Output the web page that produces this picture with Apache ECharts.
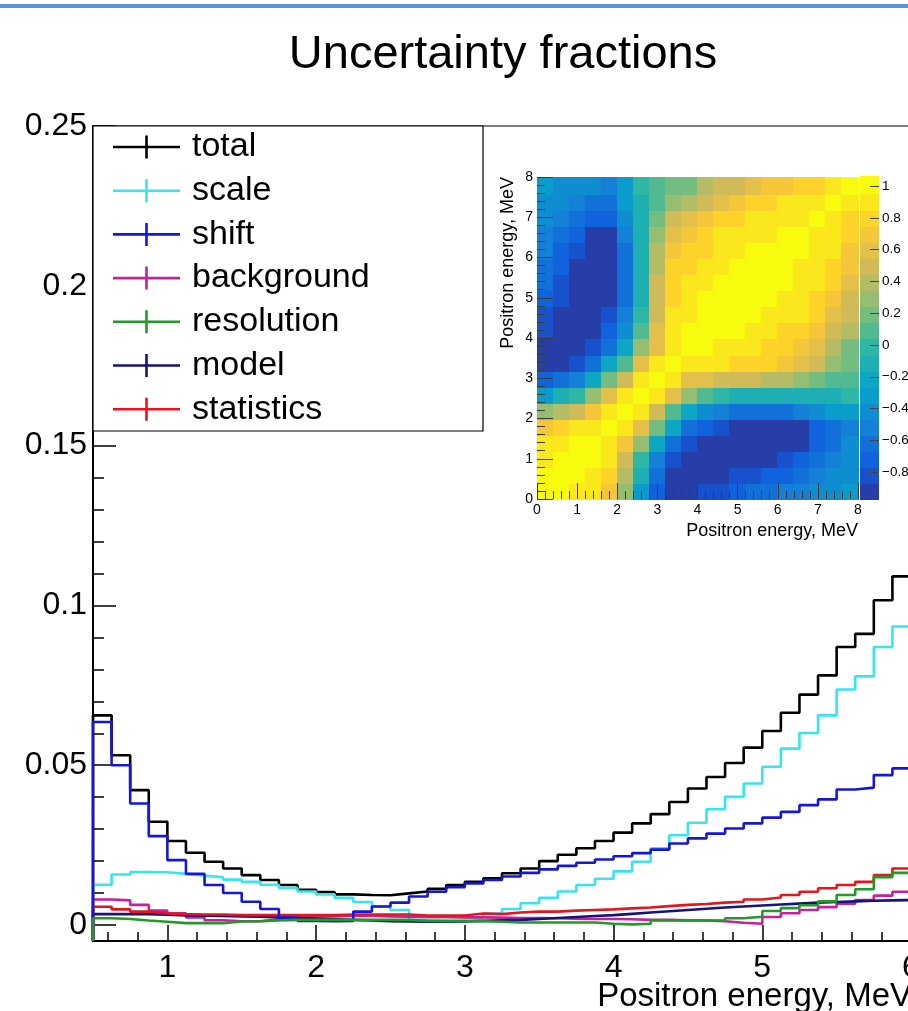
<!DOCTYPE html>
<html>
<head>
<meta charset="utf-8">
<title>Uncertainty fractions</title>
<script src="https://cdn.jsdelivr.net/npm/echarts@6/dist/echarts.min.js"></script>
<style>
  html, body { margin: 0; padding: 0; background: #fff; }
  #chart { width: 908px; height: 1011px; }
</style>
</head>
<body>
<div id="chart"></div>
<script>
// binning of the histograms: 0.125 MeV bins starting at 0.5 MeV
const binStart = 0.5;
const binWidth = 0.125;

const total = [0.0656, 0.0531, 0.0422, 0.0323, 0.0263, 0.0226, 0.0198, 0.0177, 0.0156, 0.0141, 0.0125,
  0.0110, 0.0103, 0.0096, 0.0094, 0.0093, 0.0099, 0.0105, 0.0113, 0.0125, 0.0135, 0.0146,
  0.0162, 0.0177, 0.0200, 0.0220, 0.0240, 0.0263, 0.0289, 0.0318, 0.0347, 0.0385, 0.0427,
  0.0463, 0.0507, 0.0555, 0.0607, 0.0664, 0.0721, 0.0781, 0.0870, 0.0911, 0.1016, 0.1091];
const scale = [0.0126, 0.0158, 0.0166, 0.0165, 0.0160, 0.0155, 0.0149, 0.0142, 0.0135, 0.0126, 0.0116,
  0.0105, 0.0096, 0.0085, 0.0072, 0.0058, 0.0047, 0.0016, 0.0016, 0.0016, 0.0021, 0.0036,
  0.0050, 0.0068, 0.0085, 0.0105, 0.0125, 0.0145, 0.0168, 0.0198, 0.0240, 0.0281, 0.0320,
  0.0362, 0.0401, 0.0443, 0.0495, 0.0552, 0.0601, 0.0656, 0.0737, 0.0778, 0.0870, 0.0934];
const shift = [0.0635, 0.0500, 0.0380, 0.0278, 0.0203, 0.0160, 0.0125, 0.0100, 0.0073, 0.0050, 0.0023,
  0.0013, 0.0012, 0.0013, 0.0042, 0.0058, 0.0070, 0.0089, 0.0104, 0.0118, 0.0130, 0.0141,
  0.0152, 0.0163, 0.0174, 0.0185, 0.0195, 0.0205, 0.0215, 0.0225, 0.0236, 0.0255, 0.0271,
  0.0286, 0.0302, 0.0318, 0.0336, 0.0354, 0.0375, 0.0393, 0.0424, 0.0430, 0.0469, 0.0490];
const background = [0.0080, 0.0077, 0.0063, 0.0045, 0.0037, 0.0024, 0.0015, 0.0012, 0.0012, 0.0018, 0.0024,
  0.0027, 0.0027, 0.0028, 0.0028, 0.0027, 0.0026, 0.0025, 0.0025, 0.0024, 0.0024, 0.0023,
  0.0022, 0.0022, 0.0021, 0.0020, 0.0019, 0.0019, 0.0018, 0.0016, 0.0016, 0.0015, 0.0014,
  0.0012, 0.0007, 0.0004, 0.0025, 0.0037, 0.0047, 0.0056, 0.0067, 0.0078, 0.0092, 0.0104];
const resolution = [0.0021, 0.0019, 0.0014, 0.0010, 0.0006, 0.0006, 0.0006, 0.0011, 0.0012, 0.0014, 0.0016,
  0.0016, 0.0016, 0.0016, 0.0016, 0.0016, 0.0016, 0.0013, 0.0012, 0.0012, 0.0012, 0.0010,
  0.0008, 0.0008, 0.0008, 0.0008, 0.0008, 0.0004, 0.0002, 0.0004, 0.0014, 0.0014, 0.0014,
  0.0014, 0.0021, 0.0026, 0.0044, 0.0053, 0.0062, 0.0074, 0.0094, 0.0112, 0.0150, 0.0163];
const model = [0.0034, 0.0034, 0.0034, 0.0032, 0.0030, 0.0029, 0.0028, 0.0027, 0.0026, 0.0024, 0.0022,
  0.0020, 0.0018, 0.0016, 0.0014, 0.0012, 0.0011, 0.0010, 0.0010, 0.0011, 0.0013, 0.0015,
  0.0016, 0.0019, 0.0022, 0.0025, 0.0028, 0.0031, 0.0035, 0.0039, 0.0043, 0.0047, 0.0051,
  0.0055, 0.0058, 0.0061, 0.0064, 0.0067, 0.0070, 0.0072, 0.0074, 0.0076, 0.0077, 0.0078];
const statistics = [0.0057, 0.0049, 0.0042, 0.0036, 0.0034, 0.0033, 0.0033, 0.0031, 0.0031, 0.0031, 0.0031,
  0.0031, 0.0031, 0.0033, 0.0033, 0.0033, 0.0033, 0.0030, 0.0030, 0.0030, 0.0036, 0.0034,
  0.0039, 0.0042, 0.0042, 0.0045, 0.0047, 0.0049, 0.0052, 0.0055, 0.0059, 0.0063, 0.0066,
  0.0070, 0.0073, 0.0080, 0.0086, 0.0094, 0.0104, 0.0115, 0.0125, 0.0135, 0.0156, 0.0177];

const legendOrder = ['total', 'scale', 'shift', 'background', 'resolution', 'model', 'statistics'];
const xTicks = [1, 2, 3, 4, 5, 6];
const yTicks = [0, 0.05, 0.1, 0.15, 0.2, 0.25];

// inset: correlation matrix, 0.4 MeV cells, upper triangle (row = y cell, from the diagonal to the right)
const corrCenters = [0.2, 0.6, 1.0, 1.4, 1.8, 2.2, 2.6, 3.0, 3.4, 3.8, 4.2, 4.6, 5.0, 5.4, 5.8, 6.2, 6.6, 7.0, 7.4, 7.8];
const corrCell = 0.4;
const corrUpper = [
  [1.00, 0.98, 0.95, 0.88, 0.70, 0.25, -0.30, -0.70, -0.88, -0.88, -0.84, -0.78, -0.72, -0.66, -0.60, -0.55, -0.50, -0.45, -0.38, -0.30],
  [1.00, 0.98, 0.93, 0.80, 0.40, -0.15, -0.60, -0.88, -0.92, -0.92, -0.90, -0.86, -0.80, -0.74, -0.67, -0.60, -0.52, -0.44, -0.37],
  [1.00, 0.97, 0.88, 0.55, -0.05, -0.50, -0.80, -0.92, -0.94, -0.94, -0.93, -0.91, -0.88, -0.82, -0.72, -0.62, -0.52, -0.43],
  [1.00, 0.95, 0.75, 0.25, -0.25, -0.60, -0.80, -0.89, -0.92, -0.93, -0.93, -0.92, -0.90, -0.88, -0.75, -0.60, -0.46],
  [1.00, 0.92, 0.60, 0.15, -0.25, -0.60, -0.74, -0.82, -0.87, -0.89, -0.90, -0.90, -0.88, -0.74, -0.60, -0.47],
  [1.00, 0.88, 0.50, 0.10, -0.20, -0.38, -0.55, -0.62, -0.66, -0.66, -0.60, -0.52, -0.45, -0.36, -0.28],
  [1.00, 0.88, 0.60, 0.30, 0.12, 0.00, -0.08, -0.12, -0.14, -0.15, -0.15, -0.13, -0.10, -0.05],
  [1.00, 0.88, 0.65, 0.60, 0.55, 0.52, 0.48, 0.42, 0.36, 0.28, 0.20, 0.12, 0.05],
  [1.00, 0.90, 0.88, 0.87, 0.85, 0.82, 0.77, 0.70, 0.60, 0.47, 0.32, 0.15],
  [1.00, 0.96, 0.93, 0.90, 0.87, 0.82, 0.76, 0.68, 0.57, 0.42, 0.22],
  [1.00, 0.98, 0.96, 0.94, 0.90, 0.85, 0.78, 0.68, 0.55, 0.35],
  [1.00, 0.99, 0.97, 0.95, 0.91, 0.86, 0.77, 0.65, 0.45],
  [1.00, 0.99, 0.97, 0.95, 0.90, 0.83, 0.73, 0.53],
  [1.00, 0.99, 0.97, 0.93, 0.87, 0.79, 0.60],
  [1.00, 0.98, 0.95, 0.90, 0.83, 0.66],
  [1.00, 0.97, 0.92, 0.86, 0.72],
  [1.00, 0.95, 0.89, 0.78],
  [1.00, 0.93, 0.84],
  [1.00, 0.90],
  [1.00]
];
const zMin = -0.969;
const zMax = 1.057;
const zBands = 20;
const zTicks = [-0.8, -0.6, -0.4, -0.2, 0, 0.2, 0.4, 0.6, 0.8, 1];

const font = '"Liberation Sans", Arial, Helvetica, sans-serif';
const yMin = -0.005;

// ROOT kBird palette
function bird(f) {
  const st = [0, 0.125, 0.25, 0.375, 0.5, 0.625, 0.75, 0.875, 1];
  const r = [0.2082, 0.0592, 0.0780, 0.0232, 0.1802, 0.5301, 0.8186, 0.9956, 0.9764];
  const g = [0.1664, 0.3599, 0.5041, 0.6419, 0.7178, 0.7492, 0.7328, 0.7862, 0.9832];
  const b = [0.5293, 0.8684, 0.8385, 0.7914, 0.6425, 0.4662, 0.3499, 0.1968, 0.0539];
  let i = 0;
  while (i < st.length - 2 && f > st[i + 1]) i++;
  const t = (f - st[i]) / (st[i + 1] - st[i]);
  const c = a => Math.round(255 * (a[i] + t * (a[i + 1] - a[i])));
  return 'rgb(' + c(r) + ',' + c(g) + ',' + c(b) + ')';
}

const bandW = (zMax - zMin) / zBands;
const pieces = [];
const bandData = [];
for (let i = 0; i < zBands; i++) {
  const lo = zMin + i * bandW, hi = lo + bandW;
  const f = Math.floor((i + 0.99) * 255 / zBands) / 254;
  pieces.push({ gte: lo, lt: hi, color: bird(Math.min(f, 1)) });
  bandData.push([lo, hi, (lo + hi) / 2]);
}
pieces[zBands - 1].lte = zMax;
delete pieces[zBands - 1].lt;

const heatData = [];
corrUpper.forEach((row, i) => {
  row.forEach((v, k) => {
    const j = i + k;
    heatData.push([corrCenters[j], corrCenters[i], v]);
    if (j !== i) heatData.push([corrCenters[i], corrCenters[j], v]);
  });
});

function stepData(values) {
  const pts = [[binStart, yMin]];
  values.forEach((v, i) => pts.push([binStart + i * binWidth, v]));
  pts.push([binStart + values.length * binWidth, values[values.length - 1]]);
  return pts;
}

const xMinor = [];
for (let v = 6; v < 60; v += 2) if (v % 10) xMinor.push(v / 10);
const yMinor = [];
for (let k = 1; k < 25; k++) if (k % 5) yMinor.push(k / 100);

const hists = [
  { name: 'total', data: total, color: '#000000' },
  { name: 'scale', data: scale, color: '#35e6ee' },
  { name: 'background', data: background, color: '#c81ea0' },
  { name: 'model', data: model, color: '#14147c' },
  { name: 'statistics', data: statistics, color: '#e8141c' },
  { name: 'shift', data: shift, color: '#1616d8' },
  { name: 'resolution', data: resolution, color: '#219a26' }
];

const chart = echarts.init(document.getElementById('chart'), null, { renderer: 'canvas' });

const fmt = v => String(Number(v.toFixed(3))).replace('-', '\u2212');

const option = {
  animation: false,
  backgroundColor: '#fff',
  textStyle: { fontFamily: font },
  grid: [
    { left: 93, top: 126, width: 818, height: 815, outerBoundsMode: 'none', containLabel: false,
      show: true, borderColor: '#000', borderWidth: 1.2, backgroundColor: 'transparent' },
    { left: 537, top: 177, width: 321, height: 322, outerBoundsMode: 'none', containLabel: false },
    { left: 860, top: 177, width: 19, height: 322, outerBoundsMode: 'none', containLabel: false }
  ],
  xAxis: [
    {
      type: 'value', gridIndex: 0, position: 'bottom', min: 0.5, max: 6.0,
      axisLine: { show: true, onZero: false, lineStyle: { color: '#000', width: 2 } },
      axisTick: { show: true, inside: true, length: 16, customValues: xTicks, lineStyle: { color: '#000', width: 1.5 } },
      axisLabel: { show: true, customValues: xTicks, fontSize: 32, color: '#000', margin: 11, fontFamily: font },
      splitLine: { show: false }
    },
    {
      type: 'value', gridIndex: 0, position: 'bottom', min: 0.5, max: 6.0,
      axisLine: { show: false, onZero: false },
      axisTick: { show: true, inside: true, length: 9, customValues: xMinor, lineStyle: { color: '#000', width: 1.5 } },
      axisLabel: { show: false },
      splitLine: { show: false }
    },
    {
      type: 'value', gridIndex: 1, position: 'bottom', min: 0, max: 8, interval: 1, z: 10,
      axisLine: { show: false, onZero: false },
      axisTick: { show: true, inside: true, length: 16, lineStyle: { color: '#3a3a3a', width: 1 } },
      minorTick: { show: true, splitNumber: 5, length: 8, lineStyle: { color: '#3a3a3a', width: 1 } },
      axisLabel: { fontSize: 14, color: '#000', margin: 4, fontFamily: font, showMinLabel: true, showMaxLabel: true },
      splitLine: { show: false }
    },
    {
      type: 'value', gridIndex: 2, min: 0, max: 1, show: false
    }
  ],
  yAxis: [
    {
      type: 'value', gridIndex: 0, position: 'left', min: yMin, max: 0.25,
      axisLine: { show: true, onZero: false, lineStyle: { color: '#000', width: 2 } },
      axisTick: { show: true, inside: true, length: 23, customValues: yTicks, lineStyle: { color: '#000', width: 1.5 } },
      axisLabel: { show: true, customValues: yTicks, fontSize: 32, color: '#000', margin: 6, fontFamily: font, formatter: fmt },
      splitLine: { show: false }
    },
    {
      type: 'value', gridIndex: 0, position: 'left', min: yMin, max: 0.25,
      axisLine: { show: false, onZero: false },
      axisTick: { show: true, inside: true, length: 11, customValues: yMinor, lineStyle: { color: '#000', width: 1.5 } },
      axisLabel: { show: false },
      splitLine: { show: false }
    },
    {
      type: 'value', gridIndex: 1, position: 'left', min: 0, max: 8, interval: 1, z: 10,
      axisLine: { show: false, onZero: false },
      axisTick: { show: true, inside: true, length: 16, lineStyle: { color: '#3a3a3a', width: 1 } },
      minorTick: { show: true, splitNumber: 5, length: 8, lineStyle: { color: '#3a3a3a', width: 1 } },
      axisLabel: { fontSize: 14, color: '#000', margin: 4, fontFamily: font, showMinLabel: true, showMaxLabel: true },
      splitLine: { show: false }
    },
    {
      type: 'value', gridIndex: 2, min: zMin, max: zMax, position: 'right', z: 10,
      axisLine: { show: false, onZero: false },
      axisTick: { show: true, inside: true, length: 9, customValues: zTicks, lineStyle: { color: '#444', width: 1 } },
      axisLabel: { show: true, customValues: zTicks, fontSize: 13.5, color: '#000', margin: 3, fontFamily: font, formatter: fmt },
      splitLine: { show: false }
    }
  ],
  visualMap: {
    type: 'piecewise', show: false, dimension: 2, seriesIndex: [7, 8], pieces: pieces
  },
  legend: {
    data: legendOrder,
    orient: 'vertical',
    left: 108, top: 125,
    itemWidth: 67, itemHeight: 23, itemGap: 9.7,
    icon: 'path://M0,10.2h67v2.6h-67z M32.2,0h2.6v23h-2.6z',
    selectedMode: false,
    textStyle: { fontSize: 34, color: '#000', fontFamily: font, padding: [0, 0, 0, 7] },
    z: 6
  },
  graphic: [
    { type: 'rect', z: 0, shape: { x: 0, y: 4, width: 908, height: 4 }, style: { fill: '#5b8fe3' } },
    { type: 'rect', z: 5, shape: { x: 93, y: 126, width: 390, height: 305 }, style: { fill: '#fff', stroke: '#000', lineWidth: 1.2 } },
    { type: 'text', z: 5, x: 503, y: 55,
      style: { text: 'Uncertainty fractions', font: '47px ' + font, fill: '#000', textAlign: 'center', align: 'center', textVerticalAlign: 'middle', verticalAlign: 'middle' } },
    { type: 'text', z: 5, x: 912, y: 997,
      style: { text: 'Positron energy, MeV', font: '33px ' + font, fill: '#000', textAlign: 'right', align: 'right', textVerticalAlign: 'middle', verticalAlign: 'middle' } },
    { type: 'text', z: 5, x: 858, y: 531,
      style: { text: 'Positron energy, MeV', font: '18px ' + font, fill: '#000', textAlign: 'right', align: 'right', textVerticalAlign: 'middle', verticalAlign: 'middle' } },
    { type: 'text', z: 5, x: 508, y: 177, rotation: Math.PI / 2,
      style: { text: 'Positron energy, MeV', font: '18px ' + font, fill: '#000', textAlign: 'right', align: 'right', textVerticalAlign: 'middle', verticalAlign: 'middle' } }
  ],
  series: hists.map(h => ({
    name: h.name,
    type: 'line',
    xAxisIndex: 0, yAxisIndex: 0,
    step: 'end',
    symbol: 'none',
    clip: true,
    data: stepData(h.data),
    itemStyle: { color: h.color },
    lineStyle: { color: h.color, width: 2.6 }
  })).concat([
    {
      type: 'custom', name: 'correlation',
      xAxisIndex: 2, yAxisIndex: 2,
      data: heatData,
      renderItem: function (params, api) {
        const x = api.value(0), y = api.value(1);
        const p0 = api.coord([x - corrCell / 2, y + corrCell / 2]);
        const p1 = api.coord([x + corrCell / 2, y - corrCell / 2]);
        return {
          type: 'rect',
          shape: { x: Math.floor(p0[0]), y: Math.floor(p0[1]), width: Math.ceil(p1[0] - p0[0]) + 1, height: Math.ceil(p1[1] - p0[1]) + 1 },
          style: { fill: api.visual('color') }
        };
      }
    },
    {
      type: 'custom', name: 'palette',
      xAxisIndex: 3, yAxisIndex: 3,
      data: bandData,
      renderItem: function (params, api) {
        const p0 = api.coord([0, api.value(1)]);
        const p1 = api.coord([1, api.value(0)]);
        return {
          type: 'rect',
          shape: { x: p0[0], y: Math.floor(p0[1]), width: p1[0] - p0[0], height: Math.ceil(p1[1] - p0[1]) + 1 },
          style: { fill: api.visual('color') }
        };
      }
    }
  ])
};

chart.setOption(option);
</script>
</body>
</html>
